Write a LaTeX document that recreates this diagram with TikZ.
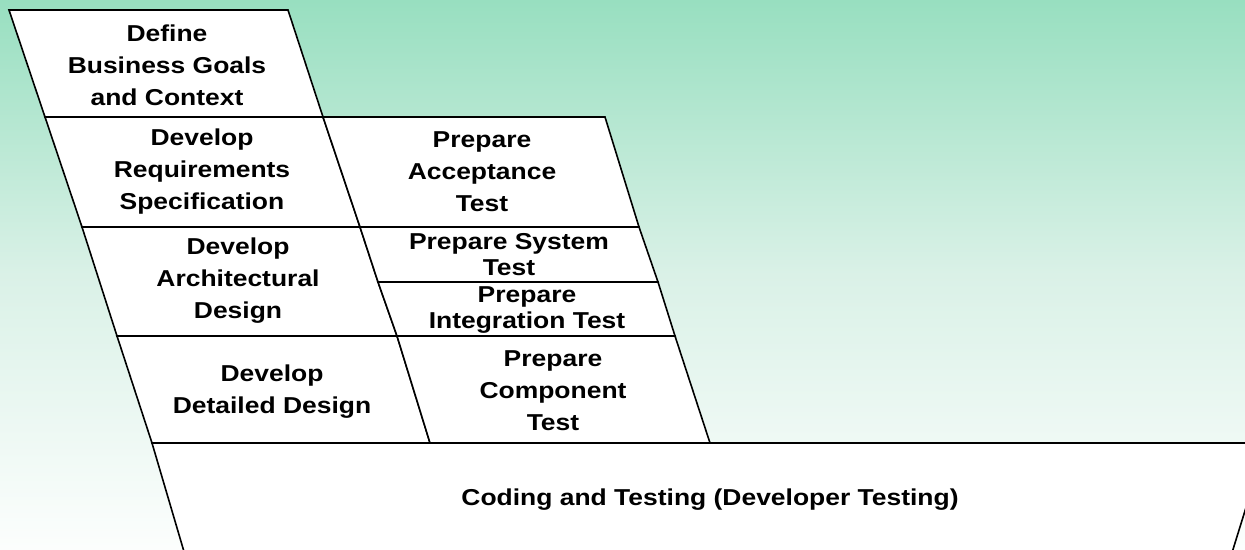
\documentclass[tikz,border=0pt]{standalone}
\usepackage{fontspec}
\setmainfont{Liberation Sans}[FakeStretch=1.15]
\definecolor{skytop}{RGB}{152,223,192}
\definecolor{skymid}{RGB}{218,241,231}
\definecolor{skylow}{RGB}{252,254,253}
\tikzset{
  phase/.style={draw=black, fill=white, line width=1.6pt, line join=miter},
  boxtext/.style={font=\bfseries\fontsize{23}{32}\selectfont, align=center},
  tighttext/.style={font=\bfseries\fontsize{23}{26}\selectfont, align=center},
}

\begin{document}
\begin{tikzpicture}[x=1pt,y=-1pt]
			%%%%% BACKGROUND %%%%%
			\useasboundingbox (0,0) rectangle (1245,549);
			\shade[top color=skytop, bottom color=skylow, middle color=skymid] (0,0) rectangle (1245,549);
			\clip (0,0) rectangle (1245,549);
			
			% left, middle and right edges of the stair
			\coordinate (l0) at (9,10);    \coordinate (m0) at (288,10);
			\coordinate (l1) at (45,117);  \coordinate (m1) at (323,117); \coordinate (r1) at (605,117);
			\coordinate (l2) at (82,227);  \coordinate (m2) at (360,227); \coordinate (r2) at (639,227);
			                               \coordinate (m3) at (378,282); \coordinate (r3) at (658,282);
			\coordinate (l4) at (117,336); \coordinate (m4) at (397,336); \coordinate (r4) at (675,336);
			\coordinate (l5) at (152,443); \coordinate (m5) at (430,443); \coordinate (r5) at (710,443);
			
			%%%%% BOTTOM %%%%%
			\draw[phase] (l5) -- (1266,443) -- (1226,572) -- (190,572) -- cycle;
			\node[boxtext] (coding) at (710,500) {Coding and Testing (Developer Testing)};
			
			%%%%% LEFT COLUMN %%%%%
			\draw[phase] (l0) -- (m0) -- (m1) -- (l1) -- cycle;
			\draw[phase] (l1) -- (m1) -- (m2) -- (l2) -- cycle;
			\draw[phase] (l2) -- (m2) -- (m3) -- (m4) -- (l4) -- cycle;
			\draw[phase] (l4) -- (m4) -- (m5) -- (l5) -- cycle;
			
			\node[boxtext] (goals) at (167,65) {Define\\Business Goals\\and Context};
			\node[boxtext] (reqs) at (202,172) {Develop\\Requirements\\Specification};
			\node[boxtext] (arch) at (238,281) {Develop\\Architectural\\Design};
			\node[boxtext] (detail) at (272,392) {Develop\\Detailed Design};
			
			%%%%% RIGHT COLUMN %%%%%
			\draw[phase] (m1) -- (r1) -- (r2) -- (m2) -- cycle;
			\draw[phase] (m2) -- (r2) -- (r3) -- (m3) -- cycle;
			\draw[phase] (m3) -- (r3) -- (r4) -- (m4) -- cycle;
			\draw[phase] (m4) -- (r4) -- (r5) -- (m5) -- cycle;
			
			\node[boxtext] (accept) at (482,172) {Prepare\\Acceptance\\Test};
			\node[tighttext] (system) at (509,255) {Prepare System\\Test};
			\node[tighttext] (integ) at (527,310) {Prepare\\Integration Test};
			\node[boxtext] (compo) at (553,391) {Prepare\\Component\\Test};
		\end{tikzpicture}
\end{document}
